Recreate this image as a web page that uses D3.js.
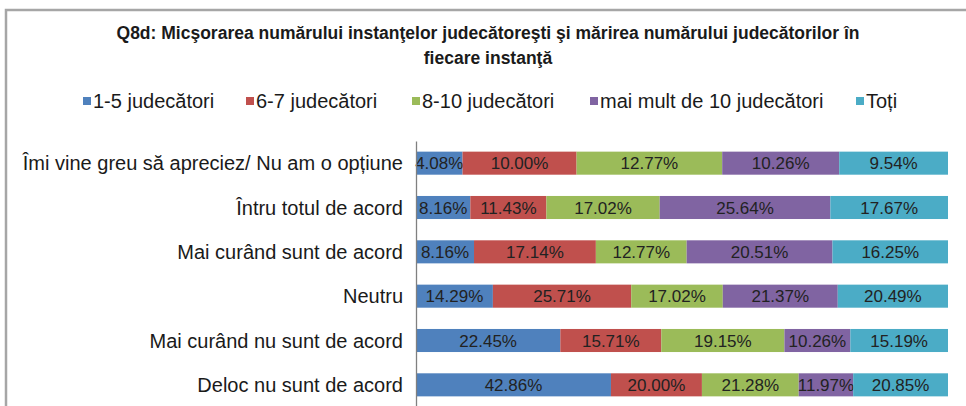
<!DOCTYPE html>
<html>
<head>
<meta charset="utf-8">
<script src="https://cdn.jsdelivr.net/npm/d3@7"></script>
<style>
  body { margin: 0; background: #fff; }
  svg { display: block; }
</style>
</head>
<body>
<div id="graph"></div>
<script>
// categories (top to bottom)
var categorii = [
    "Îmi vine greu să apreciez/ Nu am o opțiune",
    "Întru totul de acord",
    "Mai curând sunt de acord",
    "Neutru",
    "Mai curând nu sunt de acord",
    "Deloc nu sunt de acord"
];
var serii = ["1-5 judecători", "6-7 judecători", "8-10 judecători", "mai mult de 10 judecători", "Toți"];
var judecatori_1_5 = [4.08, 8.16, 8.16, 14.29, 22.45, 42.86];
var judecatori_6_7 = [10.00, 11.43, 17.14, 25.71, 15.71, 20.00];
var judecatori_8_10 = [12.77, 17.02, 12.77, 17.02, 19.15, 21.28];
var peste_10 = [10.26, 25.64, 20.51, 21.37, 10.26, 11.97];
var toti = [9.54, 17.67, 16.25, 20.49, 15.19, 20.85];
var titlu = ["Q8d: Micşorarea numărului instanţelor judecătoreşti şi mărirea numărului judecătorilor în",
             "fiecare instanţă"];

function dessin() {
    "use strict";
    var W = 966, H = 406,
        culori = ["#4F81BD", "#C0504D", "#9BBB59", "#8064A2", "#4BACC6"],
        valori = [judecatori_1_5, judecatori_6_7, judecatori_8_10, peste_10, toti],
        donnees = categorii.map(function (c, i) {
            var r = {cat: c};
            serii.forEach(function (s, j) { r[s] = valori[j][i]; });
            return r;
        }),
        svg = d3.select("#graph").append("svg")
            .attr("width", W).attr("height", H),
        x = d3.scaleLinear().domain([0, 1]).range([416, 948]),
        y = d3.scaleBand().domain(categorii).range([141, 407])
            .paddingInner(0.48).paddingOuter(0.24),
        stack = d3.stack().keys(serii).offset(d3.stackOffsetExpand)(donnees);

    // chart frame
    svg.append("rect")
        .attr("x", 6).attr("y", 10).attr("width", W + 20).attr("height", H + 20)
        .attr("fill", "#fff").attr("stroke", "#a6a6a6").attr("stroke-width", 2.5);

    // title
    svg.append("g").selectAll("text").data(titlu).enter().append("text")
        .attr("x", 488).attr("y", function (d, i) { return 39 + i * 25; })
        .attr("text-anchor", "middle")
        .style("font-family", "'Liberation Sans', sans-serif")
        .style("font-weight", "bold").style("font-size", "17.5px").style("fill", "#1a1a1a")
        .text(function (d) { return d; });

    // legend
    var legX = [83, 246, 412, 590, 856];
    var leg = svg.append("g").selectAll("g").data(serii).enter().append("g")
        .attr("transform", function (d, i) { return "translate(" + legX[i] + ",101)"; });
    leg.append("rect").attr("x", 0).attr("y", -4).attr("width", 8).attr("height", 8)
        .attr("fill", function (d, i) { return culori[i]; });
    leg.append("text").attr("x", 10).attr("y", 7)
        .style("font-family", "'Liberation Sans', sans-serif")
        .style("font-size", "20px").style("fill", "#1a1a1a")
        .text(function (d) { return d; });

    // bars
    var grupuri = svg.append("g").selectAll("g").data(stack).enter().append("g")
        .attr("fill", function (d, i) { return culori[i]; });
    grupuri.selectAll("rect").data(function (d) { return d; }).enter().append("rect")
        .attr("x", function (d) { return x(d[0]); })
        .attr("width", function (d) { return x(d[1]) - x(d[0]); })
        .attr("y", function (d) { return y(d.data.cat); })
        .attr("height", y.bandwidth());

    // data labels
    grupuri.each(function (s) {
        d3.select(this).selectAll("text").data(s).enter().append("text")
            .attr("x", function (d) { return (x(d[0]) + x(d[1])) / 2; })
            .attr("y", function (d) { return y(d.data.cat) + y.bandwidth() / 2 + 6; })
            .attr("text-anchor", "middle")
            .style("font-family", "'Liberation Sans', sans-serif")
            .style("font-size", "17px").style("fill", "#222")
            .text(function (d) { return d.data[s.key].toFixed(2) + "%"; });
    });

    // category axis
    var axe = svg.append("g").attr("transform", "translate(416,0)")
        .call(d3.axisLeft(y).tickSize(0).tickPadding(13));
    axe.select(".domain").attr("stroke", "#808080").attr("stroke-width", 1.3);
    axe.selectAll("text")
        .attr("dy", "0.36em")
        .style("font-family", "'Liberation Sans', sans-serif")
        .style("font-size", "20px").style("fill", "#1a1a1a");
}

dessin();
</script>
</body>
</html>
